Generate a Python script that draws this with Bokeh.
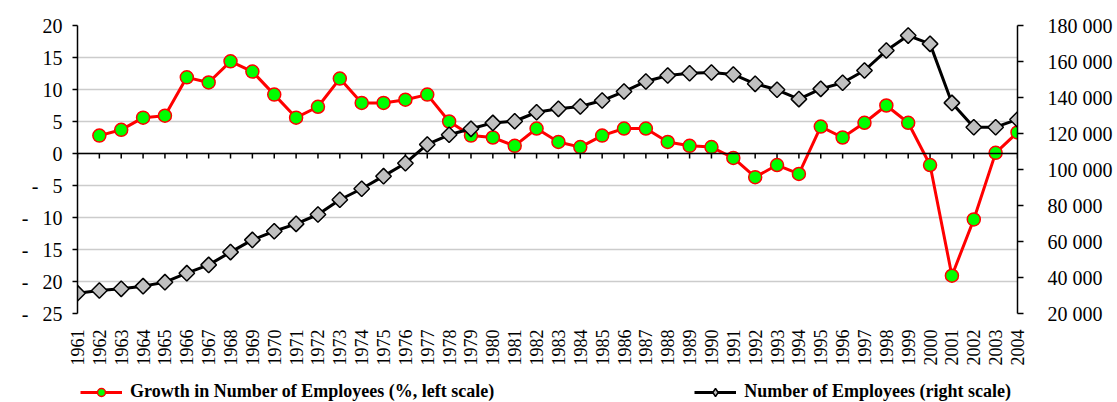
from math import pi
from bokeh.plotting import figure
from bokeh.layouts import column
from bokeh.models import (Range1d, LinearAxis, FixedTicker, CustomJSTickFormatter,
                          Span, Legend, LegendItem)
from bokeh.embed import file_html
from bokeh.resources import INLINE

years = list(range(1961, 2005))
growth_years = years[1:]
growth_pct = [2.8, 3.7, 5.6, 5.9, 11.9, 11.1, 14.4, 12.8, 9.2, 5.6, 7.3, 11.7, 7.9, 7.9,
              8.4, 9.2, 5.0, 2.8, 2.5, 1.2, 3.9, 1.8, 1.0, 2.8, 3.9, 3.9, 1.8, 1.2, 1.0,
              -0.7, -3.7, -1.8, -3.2, 4.2, 2.5, 4.8, 7.5, 4.8, -1.8, -19.1, -10.3, 0.1, 3.3]
employees = [31300, 32800, 33700, 35200, 37400, 42400, 47000, 54100, 60900, 65700,
             69800, 75000, 83200, 89300, 96300, 103500, 113900, 119300, 122600, 125900,
             126800, 131800, 133700, 135000, 138300, 143300, 148900, 152200, 153500, 153900,
             152800, 147600, 144300, 139100, 144800, 148200, 155000, 166100, 174400, 169800,
             137000, 123500, 123500, 127800]
left_ticks = [-25, -20, -15, -10, -5, 0, 5, 10, 15, 20]
right_ticks = [20000, 40000, 60000, 80000, 100000, 120000, 140000, 160000, 180000]
label_growth = "Growth in Number of Employees (%, left scale)"
label_emp = "Number of Employees (right scale)"

FONT = "Liberation Serif"
RED, GREEN, GREY = "#ff0000", "#00ff00", "#c0c0c0"


def growth_glyphs(fig, **kw):
    rl = fig.line(growth_years, growth_pct, line_color=RED, line_width=3, **kw)
    rc = fig.scatter(growth_years, growth_pct, marker="circle", size=13,
                     fill_color=GREEN, line_color=RED, line_width=1.5, **kw)
    return [rl, rc]


def employee_glyphs(fig, marker="square", angle=pi / 4, **kw):
    rl = fig.line(years, employees, line_color="black", line_width=3, **kw)
    rd = fig.scatter(years, employees, marker=marker, angle=angle, size=11,
                     fill_color=GREY, line_color="black", line_width=1.5, **kw)
    return [rl, rd]


p = figure(width=1117, height=370, x_range=Range1d(1961, 2004), y_range=Range1d(-25, 20),
           output_backend="svg", toolbar_location=None,
           min_border_left=77, min_border_right=100, min_border_top=25, min_border_bottom=57)
p.outline_line_color = None
p.extra_y_ranges = {"right": Range1d(20000, 180000)}

p.xgrid.visible = False
p.ygrid.ticker = FixedTicker(ticks=left_ticks)
p.ygrid.grid_line_color = "#cccccc"
p.ygrid.grid_line_width = 1.5

# left axis
ya = p.yaxis[0]
ya.ticker = FixedTicker(ticks=left_ticks)
ya.formatter = CustomJSTickFormatter(code="""
const v = Math.abs(Math.round(tick));
if (tick < 0) { return "-\\u2002\\u2009" + v; }
return "" + v;
""")
ya.major_tick_in = 0
ya.major_tick_out = 5
ya.minor_tick_line_color = None
ya.axis_line_color = "black"
ya.axis_line_width = 1.5
ya.major_tick_line_width = 1.5
ya.major_label_text_font = FONT
ya.major_label_text_font_size = "20px"
ya.major_label_text_color = "black"
ya.major_label_standoff = 10

# bottom axis (labels only)
xa = p.xaxis[0]
xa.ticker = FixedTicker(ticks=years)
xa.formatter = CustomJSTickFormatter(code="return '' + Math.round(tick);")
xa.major_label_orientation = pi / 2
xa.major_tick_in = 0
xa.major_tick_out = 0
xa.minor_tick_line_color = None
xa.axis_line_color = None
xa.major_label_standoff = 16
xa.major_label_text_font = FONT
xa.major_label_text_font_size = "18px"
xa.major_label_text_color = "black"

# right axis
ra = LinearAxis(y_range_name="right", ticker=FixedTicker(ticks=right_ticks),
                formatter=CustomJSTickFormatter(code=r"""
const s = Math.round(tick).toString();
return s.replace(/\B(?=(\d{3})+(?!\d))/g, " ");
"""))
ra.major_tick_in = 0
ra.major_tick_out = 6
ra.minor_tick_line_color = None
ra.axis_line_color = "black"
ra.axis_line_width = 1.5
ra.major_tick_line_width = 1.5
ra.major_label_text_font = FONT
ra.major_label_text_font_size = "20px"
ra.major_label_text_color = "black"
ra.major_label_standoff = 24
p.add_layout(ra, "right")

# zero line with category tick marks
p.add_layout(Span(location=0, dimension="width", line_color="black", line_width=1.5))
p.segment(x0=years, y0=[0] * len(years), x1=years, y1=[-0.8] * len(years),
          line_color="black", line_width=1.5)

# series
growth_glyphs(p)
employee_glyphs(p, y_range_name="right")

# legend strip below the chart (hidden copies of the series serve as legend keys)
lf = figure(width=1117, height=32, x_range=Range1d(0, 1), y_range=Range1d(0, 1),
            output_backend="svg", toolbar_location=None, min_border=0)
lf.axis.visible = False
lf.grid.visible = False
lf.outline_line_color = None
keys_g = growth_glyphs(lf, visible=False)
keys_e = employee_glyphs(lf, marker="diamond", angle=0, visible=False)
legend = Legend(items=[LegendItem(label=label_growth, renderers=keys_g),
                       LegendItem(label=label_emp, renderers=keys_e)],
                orientation="horizontal", location=(3, 0),
                glyph_width=42, glyph_height=20, label_standoff=8, spacing=200,
                padding=0, margin=0, border_line_alpha=0, background_fill_alpha=0,
                inactive_fill_alpha=0,
                label_text_font=FONT, label_text_font_style="bold",
                label_text_font_size="18px", label_text_color="black")
lf.add_layout(legend)

open("out.html", "w").write(file_html(column(p, lf, spacing=0), INLINE))
